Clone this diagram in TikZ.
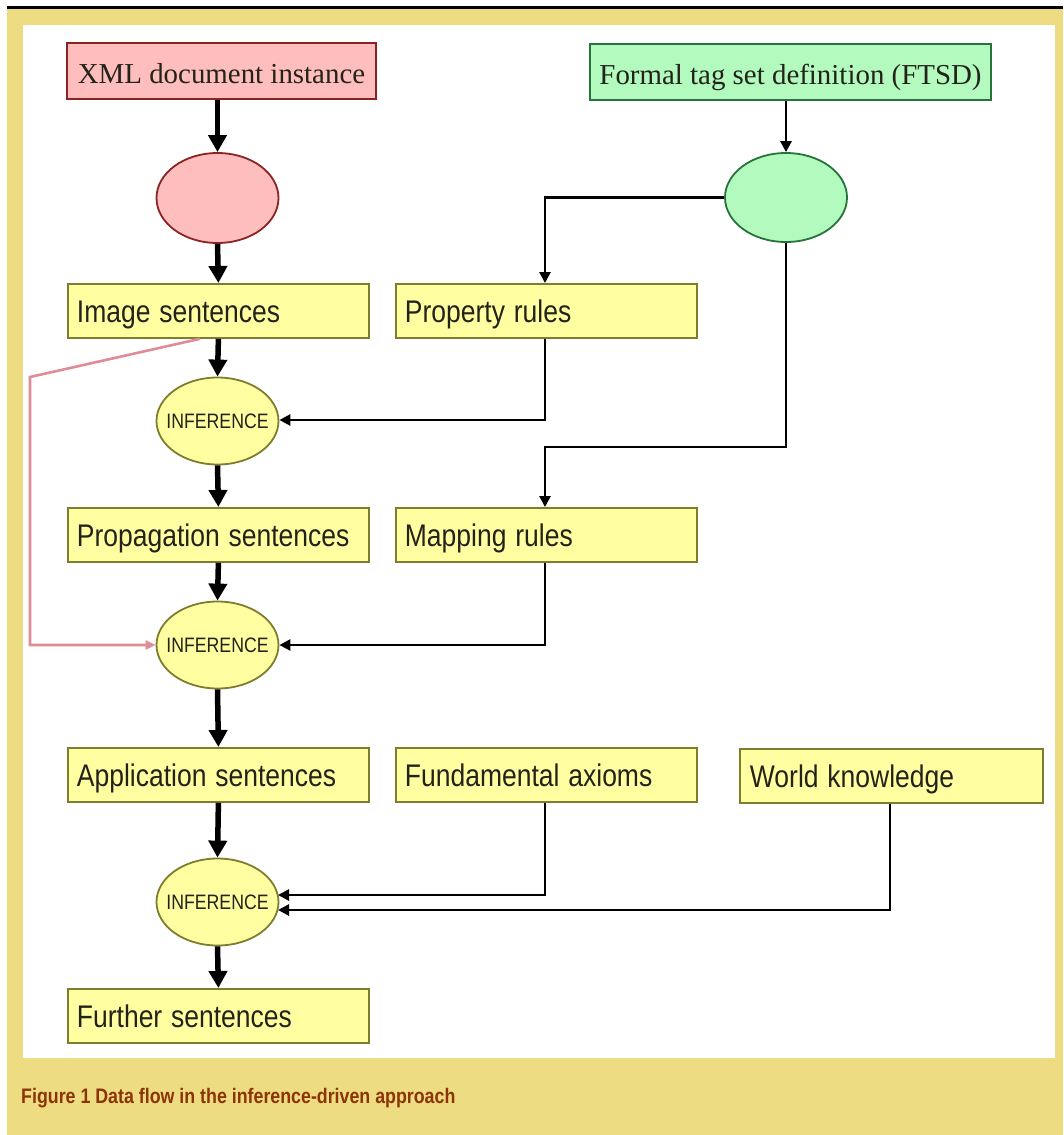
\documentclass[tikz,border=0pt]{standalone}
\usepackage{fontspec}
\setsansfont{Liberation Sans}
\setmainfont{Liberation Serif}
\usetikzlibrary{arrows.meta,calc,shapes.geometric}
\definecolor{framey}{RGB}{237,220,130}
\definecolor{boxy}{RGB}{255,255,162}
\definecolor{boxyline}{RGB}{125,125,45}
\definecolor{pinkf}{RGB}{255,190,190}
\definecolor{pinkl}{RGB}{140,35,35}
\definecolor{greenf}{RGB}{178,250,190}
\definecolor{greenl}{RGB}{40,115,60}
\definecolor{pinkwire}{RGB}{222,140,150}
\definecolor{capcol}{RGB}{139,52,5}
\definecolor{txt}{RGB}{35,35,25}
\newcommand{\vstr}[1]{\scalebox{1}[1.18]{#1}}
\tikzset{
  ybox/.style={draw=boxyline, line width=1.8pt, fill=boxy, minimum width=301pt, minimum height=54pt,
     inner sep=0pt, anchor=north west, text width=283pt, align=left, text=txt,
     text height=27pt, text depth=3pt,
     font=\sffamily\fontsize{26.5}{30}\selectfont},
  topbox/.style={line width=1.8pt, minimum height=56pt, inner sep=0pt, text=txt,
     text height=27pt, text depth=3pt, font=\fontsize{28.9}{32}\selectfont},
  infer/.style={ellipse, draw=boxyline, line width=1.8pt, fill=boxy, minimum width=122pt, minimum height=87pt,
     inner sep=0pt, text=txt, font=\sffamily\fontsize{17.7}{20}\selectfont},
  bigarrow/.style={line width=5.5pt, -{Triangle[length=17pt,width=18pt]}},
  thinarrow/.style={line width=2.6pt, -{Triangle[length=11pt,width=11pt]}},
}
\begin{document}
\begin{tikzpicture}[x=1pt,y=-1pt]
\useasboundingbox (0,0) rectangle (1063,1135);
% frame
\fill[framey] (7,8.5) rectangle (1063,1135);
\fill[black] (7,5.5) rectangle (1063,8.5);
\fill[white] (23,25) rectangle (1055,1058);
% top boxes
\node[topbox, draw=pinkl, fill=pinkf, minimum width=309pt] (xml) at (221.5,71) {XML document instance};
\node[topbox, draw=greenl, fill=greenf, minimum width=401pt] (ftsd) at (790.5,72) {Formal tag set definition (FTSD)};
% top ellipses
\node[ellipse, draw=pinkl, line width=1.8pt, fill=pinkf, minimum width=122pt, minimum height=90pt] (pe) at (217.5,198) {};
\node[ellipse, draw=greenl, line width=1.8pt, fill=greenf, minimum width=122pt, minimum height=89pt] (ge) at (786,197.5) {};
% yellow boxes
\node[ybox] (img) at (67,283) {\vstr{Image sentences}};
\node[ybox] (prop) at (395,283) {\vstr{Property rules}};
\node[ybox] (propag) at (67,507) {\vstr{Propagation sentences}};
\node[ybox] (map) at (395,507) {\vstr{Mapping rules}};
\node[ybox] (appl) at (67,747) {\vstr{Application sentences}};
\node[ybox] (fund) at (395,747) {\vstr{Fundamental axioms}};
\node[ybox, minimum width=303pt] (world) at (739,748) {\vstr{World knowledge}};
\node[ybox] (further) at (67,988) {\vstr{Further sentences}};
% inference ellipses
\node[infer] (inf1) at (217.5,421) {\makebox[0pt]{\vstr{INFERENCE}}};
\node[infer] (inf2) at (217.5,645) {\makebox[0pt]{\vstr{INFERENCE}}};
\node[infer] (inf3) at (217.5,902) {\makebox[0pt]{\vstr{INFERENCE}}};
% main thick arrows
\draw[bigarrow] (pe.north |- xml.south) -- (pe.north);
\draw[bigarrow] (pe.south) -- (img.north);
\draw[bigarrow] (img.south) -- (inf1.north);
\draw[bigarrow] (inf1.south) -- (propag.north);
\draw[bigarrow] (propag.south) -- (inf2.north);
\draw[bigarrow] (inf2.south) -- (appl.north);
\draw[bigarrow] (appl.south) -- (inf3.north);
\draw[bigarrow] (inf3.south) -- (further.north);
% FTSD arrows
\draw[thinarrow] (ftsd.south -| ge.north) -- (ge.north);
\coordinate (pk1) at (545,197.5);
\draw[thinarrow] (ge.west) -- (pk1) -- (prop.north -| pk1);
\coordinate (pk2) at (786,447);
\coordinate (pk3) at (545,447);
\draw[thinarrow] (ge.south) -- (pk2) -- (pk3) -- (map.north -| pk3);
% rules to inference
\coordinate (pr1) at (545,420);
\draw[thinarrow] (prop.south -| pr1) -- (pr1) -- (inf1.east |- pr1);
\coordinate (mr1) at (545,645);
\draw[thinarrow] (map.south -| mr1) -- (mr1) -- (inf2.east);
\coordinate (fa1) at (545,895);
\coordinate (fa2) at (278,895);
\coordinate (wk1) at (890,910);
\coordinate (wk2) at (278,910);
\draw[thinarrow] (fund.south -| fa1) -- (fa1) -- (fa2);
\draw[thinarrow] (world.south -| wk1) -- (wk1) -- (wk2);
% pink connector
\coordinate (pw0) at ([xshift=133pt]img.south west);
\coordinate (pw1) at (30,377);
\coordinate (pw2) at (30,645);
\draw[pinkwire, line width=2.6pt, -{Triangle[length=10pt,width=9pt]}] (pw0) -- (pw1) -- (pw2) -- (inf2.west);
% caption
\node[anchor=base west, inner sep=0pt, text=capcol, font=\sffamily\bfseries\fontsize{17.8}{20}\selectfont] (cap) at (21,1103)
  {\vstr{Figure 1 Data flow in the inference-driven approach}};
\end{tikzpicture}
\end{document}
